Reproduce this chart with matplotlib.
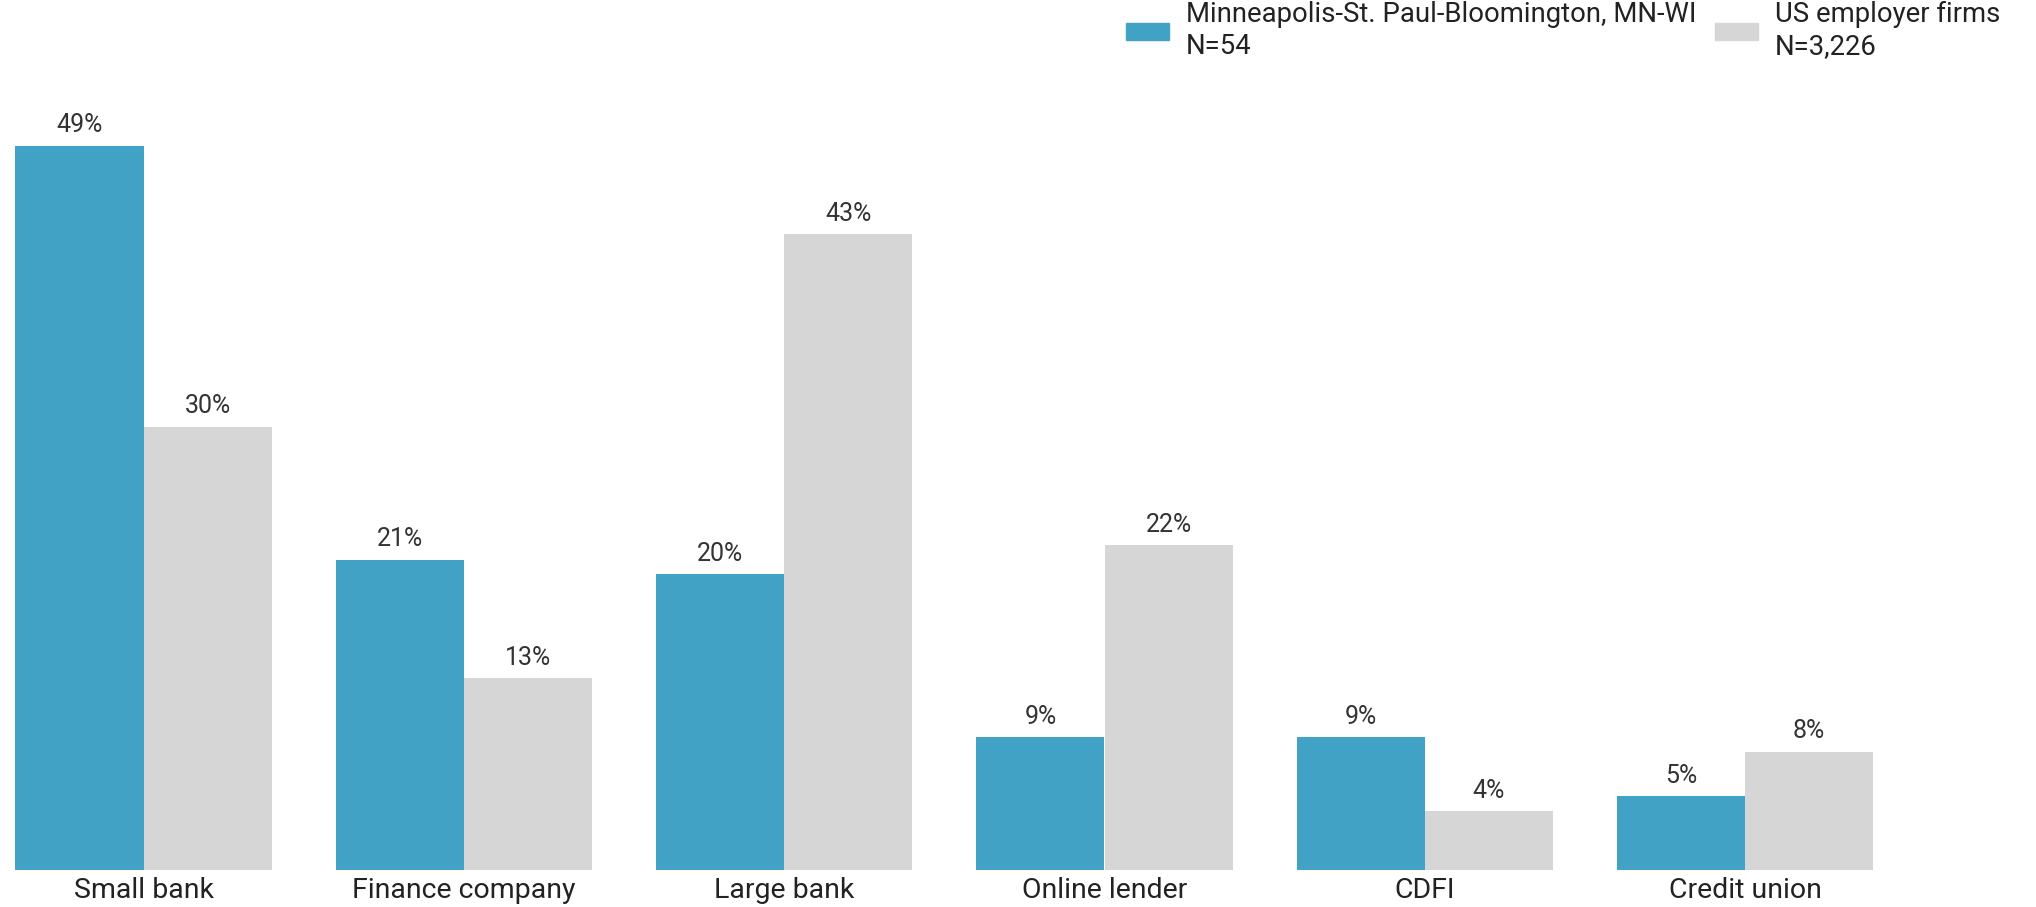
import numpy as np
import matplotlib.pyplot as plt
from matplotlib.patches import Patch

plt.rcParams["font.family"] = ["Roboto", "DejaVu Sans"]

# Data
categories = ["Small bank", "Finance company", "Large bank", "Online lender", "CDFI", "Credit union"]
msp_values = [49, 21, 20, 9, 9, 5]
us_values = [30, 13, 43, 22, 4, 8]
msp_label = "Minneapolis-St. Paul-Bloomington, MN-WI\nN=54"
us_label = "US employer firms\nN=3,226"

blue = "#42a2c6"
grey = "#d6d6d6"

fig = plt.figure(figsize=(20.36, 9.07), dpi=100)
ax = fig.add_axes([0, 37 / 907, 1, (870 - 131) / 907])

x = np.arange(len(categories))
w = 0.4
b1 = ax.bar(x - w / 2, msp_values, w, color=blue)
b2 = ax.bar(x + w / 2, us_values, w, color=grey)

for bars, vals in [(b1, msp_values), (b2, us_values)]:
    for rect, v in zip(bars, vals):
        ax.annotate(f"{v}%", (rect.get_x() + rect.get_width() / 2, rect.get_height()),
                    xytext=(0, 6), textcoords="offset points", ha="center", va="bottom",
                    fontsize=18, color="#333333")

ax.set_xlim(-143.6 / 320.3, (2036 - 143.6) / 320.3)
ax.set_ylim(0, 50)
ax.set_xticks(x)
ax.set_xticklabels(categories, fontsize=20.5, color="#222222")
ax.tick_params(axis="x", length=0, pad=5)
ax.set_yticks([])
for s in ax.spines.values():
    s.set_visible(False)
ax.patch.set_alpha(0)

# two legend entries placed separately
fs = 19.8
for color, label, left in [(blue, msp_label, 1126), (grey, us_label, 1715)]:
    leg = fig.legend([Patch(color=color)], [label], loc="upper left",
                     bbox_to_anchor=(left / 2036, 1 - 1 / 907), frameon=False,
                     fontsize=fs, borderpad=0, borderaxespad=0, handlelength=1.55,
                     handleheight=0.55, handletextpad=0.62)
    for t in leg.get_texts():
        t.set_linespacing(1.25)
        t.set_color("#222222")

fig.savefig("out.png", dpi=100)
